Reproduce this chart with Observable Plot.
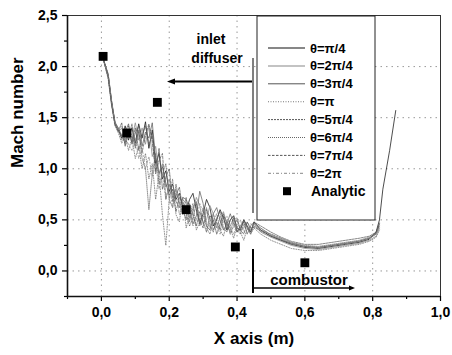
<!DOCTYPE html>
<html><head><meta charset="utf-8">
<script src="https://cdn.jsdelivr.net/npm/d3@7"></script>
<script src="https://cdn.jsdelivr.net/npm/@observablehq/plot@0.6"></script>
<style>body{margin:0;background:#fff;} #chart{width:452px;height:355px;}</style>
</head><body><div id="chart"></div>
<script>
// ---- data ----
const xPos = [0.005,0.02,0.03,0.04,0.05,0.06,0.07,0.08,0.09,0.10,0.11,0.12,0.13,0.14,0.15,0.16,0.17,0.18,0.19,0.20,
  0.21,0.22,0.23,0.24,0.25,0.26,0.27,0.28,0.29,0.30,0.31,0.32,0.33,0.34,0.35,0.36,0.37,0.38,0.39,0.40,
  0.41,0.42,0.43,0.44,0.45,0.47,0.50,0.53,0.56,0.60,0.64,0.68,0.72,0.76,0.79,0.81,0.82];
const theta1 = [2.08,1.92,1.66,1.44,1.38,1.30,1.42,1.28,1.40,1.25,1.44,1.30,1.46,1.20,1.38,1.05,1.15,0.90,0.98,0.78,0.85,0.70,0.76,0.62,
  0.58,0.70,0.76,0.60,0.46,0.56,0.70,0.62,0.44,0.50,0.60,0.52,0.40,0.50,0.54,0.42,0.40,0.50,0.44,0.38,0.48,
  0.40,0.34,0.30,0.26,0.23,0.22,0.24,0.26,0.28,0.31,0.38,0.50];
const theta2 = [2.08,1.90,1.64,1.46,1.36,1.40,1.26,1.38,1.30,1.45,1.28,1.40,1.24,1.42,1.12,1.22,0.96,1.05,0.82,0.90,0.72,0.80,0.66,0.70,
  0.66,0.52,0.58,0.72,0.64,0.46,0.50,0.64,0.56,0.42,0.52,0.58,0.46,0.38,0.50,0.52,0.40,0.42,0.48,0.40,0.46,
  0.38,0.33,0.29,0.25,0.22,0.21,0.23,0.25,0.27,0.30,0.34,0.42];
const theta3 = [2.08,1.91,1.65,1.45,1.40,1.32,1.36,1.44,1.24,1.35,1.42,1.22,1.36,1.30,1.45,1.10,0.95,1.02,0.86,0.74,0.80,0.68,0.62,0.72,
  0.70,0.60,0.46,0.54,0.78,0.66,0.44,0.40,0.56,0.62,0.50,0.40,0.46,0.56,0.46,0.38,0.44,0.50,0.42,0.38,0.47,
  0.42,0.35,0.31,0.27,0.24,0.23,0.25,0.27,0.29,0.32,0.37,0.47];
const theta4 = [2.08,1.88,1.62,1.42,1.35,1.25,1.32,1.18,1.30,1.10,1.22,1.00,1.15,0.90,1.05,0.70,0.95,0.55,0.25,0.70,0.90,0.55,0.48,0.72,
  0.42,0.56,0.66,0.40,0.48,0.62,0.42,0.36,0.50,0.56,0.40,0.34,0.48,0.42,0.32,0.44,0.38,0.30,0.42,0.36,0.42,
  0.36,0.30,0.26,0.22,0.20,0.20,0.22,0.24,0.26,0.29,0.33,0.40];
const theta5 = [2.08,1.90,1.64,1.43,1.37,1.45,1.22,1.35,1.26,1.40,1.18,1.32,1.42,1.24,1.32,0.95,1.20,0.80,0.92,1.00,0.68,0.74,0.82,0.60,
  0.50,0.66,0.54,0.44,0.58,0.48,0.38,0.54,0.50,0.36,0.46,0.56,0.40,0.44,0.52,0.38,0.42,0.48,0.36,0.44,0.48,
  0.44,0.38,0.33,0.29,0.26,0.26,0.28,0.30,0.32,0.34,0.38,0.46];
const theta6 = [2.08,1.93,1.67,1.46,1.39,1.28,1.38,1.30,1.44,1.20,1.36,1.10,1.00,0.60,0.95,1.15,0.85,0.95,1.05,0.70,0.62,0.85,0.66,0.55,
  0.72,0.48,0.62,0.68,0.44,0.52,0.62,0.44,0.38,0.52,0.58,0.42,0.38,0.50,0.54,0.40,0.36,0.46,0.44,0.36,0.44,
  0.40,0.36,0.32,0.28,0.25,0.24,0.26,0.28,0.30,0.33,0.37,0.44];
const theta7 = [2.08,1.89,1.63,1.44,1.36,1.34,1.24,1.42,1.32,1.22,1.38,1.16,1.32,1.44,1.26,0.98,1.08,1.15,0.70,0.85,0.78,0.58,0.72,0.66,
  0.56,0.44,0.52,0.66,0.50,0.42,0.60,0.52,0.40,0.48,0.40,0.54,0.48,0.36,0.44,0.50,0.40,0.36,0.48,0.42,0.43,
  0.39,0.34,0.30,0.27,0.24,0.23,0.25,0.27,0.29,0.32,0.36,0.45];
const theta8 = [2.08,1.91,1.66,1.45,1.38,1.42,1.30,1.24,1.18,1.30,1.10,1.20,1.00,1.12,0.92,1.05,0.80,0.95,0.70,0.85,0.62,0.78,0.55,0.66,
  0.64,0.58,0.44,0.50,0.66,0.58,0.48,0.42,0.56,0.44,0.36,0.48,0.54,0.42,0.36,0.46,0.50,0.38,0.40,0.46,0.45,
  0.41,0.36,0.32,0.28,0.24,0.23,0.25,0.27,0.29,0.32,0.36,0.44];
const tailX = [0.83, 0.85, 0.868];
const tail1 = [0.80, 1.18, 1.57];
const analyticX = [0.005, 0.075, 0.165, 0.25, 0.395, 0.60];
const analyticY = [2.10, 1.35, 1.65, 0.60, 0.235, 0.08];
const seriesNames = ["θ=π/4","θ=2π/4","θ=3π/4","θ=π","θ=5π/4","θ=6π/4","θ=7π/4","θ=2π"];
const xTicks = [0, 0.2, 0.4, 0.6, 0.8, 1.0];
const xMinor = [-0.1, 0.1, 0.3, 0.5, 0.7, 0.9];
const yTicks = [0, 0.5, 1.0, 1.5, 2.0, 2.5];
const yMinor = [-0.25, 0.25, 0.75, 1.25, 1.75, 2.25];

// ---- styles ----
const seriesVals = [theta1, theta2, theta3, theta4, theta5, theta6, theta7, theta8];
const styles = [
  {stroke: "#111", dash: null, w: 0.75},
  {stroke: "#888", dash: null, w: 0.75},
  {stroke: "#555", dash: null, w: 0.7},
  {stroke: "#777", dash: "1,1.5", w: 0.8},
  {stroke: "#555", dash: "2,1", w: 0.7},
  {stroke: "#666", dash: "1,1", w: 0.7},
  {stroke: "#555", dash: "2.5,1.5", w: 0.7},
  {stroke: "#888", dash: "3,2,1,2", w: 0.7}
];
const fmt = d => d3.format(".1f")(d).replace(".", ",");
const FONT = "'Liberation Sans', Arial, Helvetica, sans-serif";

const tables = seriesVals.map((vals, k) => {
  const rows = xPos.map((x, i) => ({x, y: vals[i]}));
  if (k === 0) tailX.forEach((x, i) => rows.push({x, y: tail1[i]}));
  return rows;
});
const analytic = analyticX.map((x, i) => ({x, y: analyticY[i]}));

const marks = [
  Plot.gridX(xTicks, {stroke: "#999", strokeOpacity: 1, strokeDasharray: "1.5,4"}),
  Plot.gridY(yTicks, {stroke: "#999", strokeOpacity: 1, strokeDasharray: "1.5,4"}),
  Plot.frame({stroke: "#333", strokeWidth: 1}),
  Plot.axisX(xMinor, {tickSize: 3, text: null, strokeWidth: 1.2, label: null}),
  Plot.axisX(xTicks, {tickSize: 5, tickPadding: 6, tickFormat: fmt, strokeWidth: 1.2, label: null, fontSize: 14, fontWeight: "bold"}),
  Plot.axisY(yMinor, {tickSize: 3, text: null, strokeWidth: 1.2, label: null}),
  Plot.axisY(yTicks, {tickSize: 5, tickPadding: 5, tickFormat: fmt, strokeWidth: 1.2, label: null, fontSize: 14, fontWeight: "bold"}),
  Plot.ruleX([-0.1], {stroke: "#111", strokeWidth: 1.6}),
  Plot.ruleY([-0.25], {stroke: "#111", strokeWidth: 1.6}),
  ...tables.map((t, k) => Plot.line(t, {x: "x", y: "y", stroke: styles[k].stroke, strokeWidth: styles[k].w, strokeDasharray: styles[k].dash})),
  Plot.dot(analytic, {x: "x", y: "y", symbol: "square", r: 5, fill: "#000", stroke: null}),
  Plot.text(["X axis (m)"], {frameAnchor: "bottom", dy: 47, fontSize: 17, fontWeight: "bold", fill: "#000"}),
  Plot.text(["Mach number"], {frameAnchor: "left", dx: -50, dy: 12, rotate: -90, fontSize: 17, fontWeight: "bold", fill: "#000"})
];

const plot = Plot.plot({
  width: 452, height: 355,
  marginLeft: 67, marginRight: 12, marginTop: 15, marginBottom: 59,
  x: {domain: [-0.1, 1.0], label: null},
  y: {domain: [-0.25, 2.5], label: null},
  style: {fontFamily: FONT, background: "#fff", color: "#000", fontSize: "14px", fontWeight: "bold"},
  marks
});
document.getElementById("chart").appendChild(plot);

// ---- legend & annotations ----
const svg = d3.select(plot);
const g = svg.append("g").attr("font-family", FONT).attr("fill", "#000").attr("text-anchor", "start");
g.append("rect").attr("x", 257).attr("y", 16).attr("width", 118).attr("height", 204)
  .attr("fill", "#fff").attr("stroke", "#222").attr("stroke-width", 1);
seriesNames.forEach((name, i) => {
  const y = 48 + i * 17.9;
  g.append("line").attr("x1", 268).attr("x2", 305).attr("y1", y).attr("y2", y)
    .attr("stroke", styles[i].stroke).attr("stroke-width", styles[i].w + 0.3)
    .attr("stroke-dasharray", styles[i].dash);
  g.append("text").attr("x", 310).attr("y", y).attr("dy", "0.35em").attr("text-anchor", "start")
    .attr("font-size", 13).attr("font-weight", "bold").text(name);
});
const ay = 48 + 8 * 17.9;
g.append("rect").attr("x", 283).attr("y", ay - 4).attr("width", 8).attr("height", 8).attr("fill", "#000");
g.append("text").attr("x", 311).attr("y", ay).attr("dy", "0.35em").attr("text-anchor", "start")
  .attr("font-size", 14).attr("font-weight", "bold").text("Analytic");

// inlet diffuser annotation
g.append("text").attr("x", 211).attr("y", 44).attr("text-anchor", "middle")
  .attr("font-size", 14).attr("font-weight", "bold").text("inlet");
g.append("text").attr("x", 217).attr("y", 63).attr("text-anchor", "middle")
  .attr("font-size", 14).attr("font-weight", "bold").text("diffuser");
g.append("line").attr("x1", 252).attr("x2", 172).attr("y1", 81.5).attr("y2", 81.5)
  .attr("stroke", "#000").attr("stroke-width", 1.8);
g.append("path").attr("d", "M167,81.5 L175,78.5 L175,84.5 Z").attr("fill", "#000");
g.append("line").attr("x1", 253).attr("x2", 253).attr("y1", 58).attr("y2", 213)
  .attr("stroke", "#000").attr("stroke-width", 1);
// combustor annotation
g.append("line").attr("x1", 253).attr("x2", 253).attr("y1", 249).attr("y2", 293)
  .attr("stroke", "#000").attr("stroke-width", 2);
g.append("line").attr("x1", 253).attr("x2", 352).attr("y1", 288).attr("y2", 288)
  .attr("stroke", "#000").attr("stroke-width", 1.5);
g.append("path").attr("d", "M355,288 L349,285.5 L349,290.5 Z").attr("fill", "#000");
g.append("text").attr("x", 309).attr("y", 285).attr("text-anchor", "middle")
  .attr("font-size", 15).attr("font-weight", "bold").text("combustor");
</script>
</body></html>
